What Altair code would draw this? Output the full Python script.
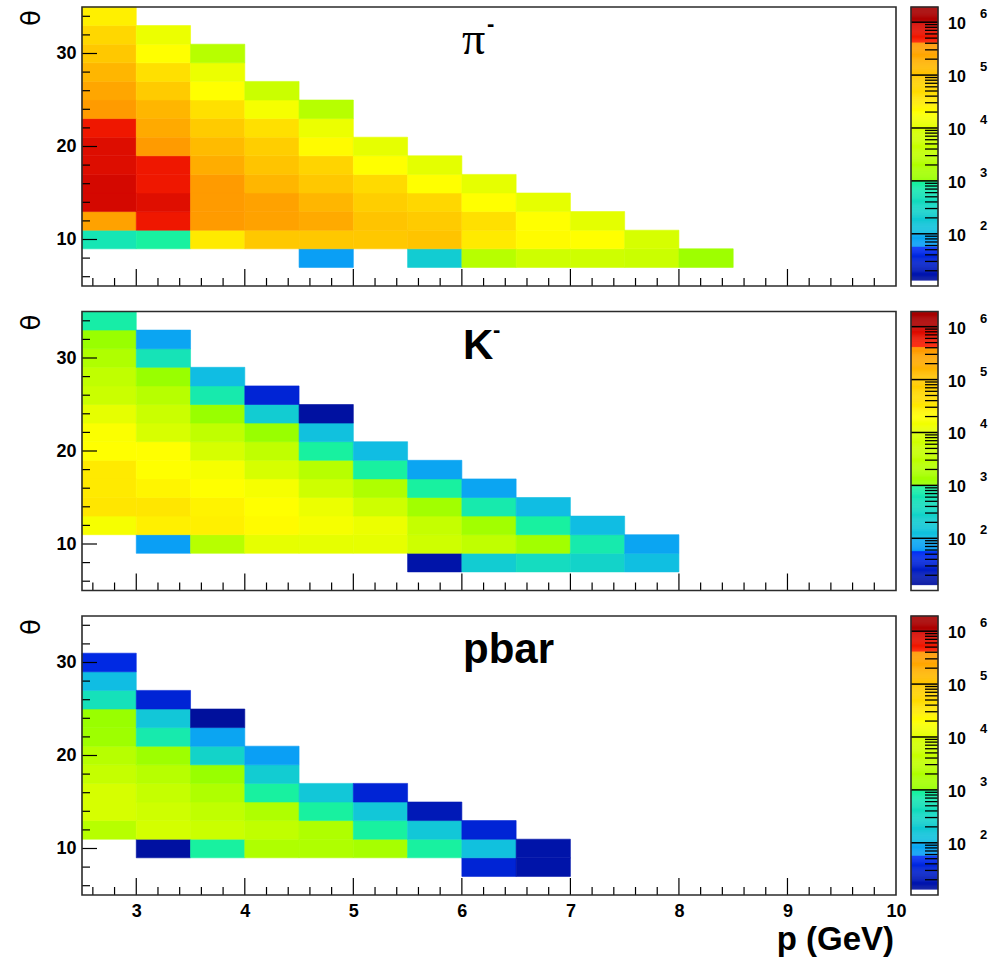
import altair as alt
import pandas as pd
import numpy as np

# ---------------- data (counts per bin) ----------------
P_BIN = 0.5          # GeV
T_BIN = 2.0          # degrees

# pi-   : left p edge of each column, lower theta edge of first filled bin, counts bottom->top
PIM_P = [2.5, 3.0, 3.5, 4.0, 4.5, 5.0, 5.5, 6.0, 6.5, 7.0, 7.5, 8.0]
PIM_T0 = [9, 9, 9, 9, 7, 9, 7, 7, 7, 7, 7, 7]
PIM_N = [
    [630, 2.8e5, 9.3e5, 9.3e5, 7.9e5, 7.9e5, 5.6e5, 3.5e5, 2.5e5, 1.6e5, 1.0e5, 5.6e4, 2.8e4],
    [890, 5.6e5, 7.6e5, 5.6e5, 5.6e5, 3.5e5, 2.2e5, 1.6e5, 8.9e4, 4.0e4, 2.0e4, 1.26e4],
    [3.2e4, 3.5e5, 3.5e5, 3.5e5, 2.0e5, 1.4e5, 8.9e4, 4.0e4, 2.0e4, 1.26e4, 2.5e3],
    [1.0e5, 2.8e5, 2.8e5, 1.6e5, 1.1e5, 7.9e4, 4.0e4, 1.6e4, 5.0e3],
    [63, 1.0e5, 2.2e5, 1.6e5, 1.0e5, 6.3e4, 2.2e4, 1.26e4, 2.5e3],
    [1.0e5, 1.1e5, 7.9e4, 5.0e4, 2.0e4, 1.1e4],
    [200, 1.1e5, 8.9e4, 5.6e4, 2.0e4, 1.05e4],
    [2.5e3, 3.2e4, 4.0e4, 2.0e4, 1.1e4],
    [6.3e3, 2.2e4, 2.0e4, 1.1e4],
    [6.3e3, 2.0e4, 1.05e4],
    [5.0e3, 8.9e3],
    [1.26e3],
]

# K-
KM_P = [2.5, 3.0, 3.5, 4.0, 4.5, 5.0, 5.5, 6.0, 6.5, 7.0, 7.5]
KM_T0 = [11, 9, 9, 9, 9, 9, 7, 7, 7, 7, 7]
KM_N = [
    [1.6e4, 3.5e4, 3.2e4, 3.2e4, 2.0e4, 1.8e4, 1.1e4, 5.0e3, 3.2e3, 2.0e3, 1.1e3, 790],
    [63, 2.8e4, 3.5e4, 2.5e4, 2.0e4, 2.0e4, 9.5e3, 5.0e3, 2.5e3, 1.1e3, 560, 79],
    [2.5e3, 2.8e4, 2.6e4, 2.0e4, 1.6e4, 8.9e3, 3.2e3, 1.1e3, 710, 105],
    [1.1e4, 2.2e4, 2.0e4, 1.6e4, 8.9e3, 3.2e3, 1.1e3, 200, 32],
    [1.1e4, 1.6e4, 1.26e4, 6.3e3, 2.5e3, 890, 126, 14],
    [1.1e4, 1.26e4, 6.3e3, 2.0e3, 890, 105],
    [16, 6.3e3, 4.0e3, 1.4e3, 890, 79],
    [200, 3.2e3, 1.4e3, 710, 79],
    [400, 1.4e3, 890, 105],
    [280, 710, 105],
    [112, 79],
]

# pbar
PB_P = [2.5, 3.0, 3.5, 4.0, 4.5, 5.0, 5.5, 6.0, 6.5]
PB_T0 = [11, 9, 9, 9, 9, 9, 9, 7, 7]
PB_N = [
    [2.5e3, 8.9e3, 8.9e3, 4.0e3, 2.5e3, 1.26e3, 1.1e3, 500, 105, 40],
    [14, 7.9e3, 6.3e3, 4.0e3, 2.5e3, 1.26e3, 710, 160, 32],
    [890, 5.0e3, 3.2e3, 2.0e3, 1.1e3, 280, 79, 13],
    [2.0e3, 3.2e3, 2.0e3, 890, 200, 63],
    [2.0e3, 2.0e3, 890, 160],
    [1.6e3, 890, 160, 32],
    [890, 160, 20],
    [32, 126, 32],
    [16, 16],
]

TITLES = ["\u03c0", "K", "pbar"]
TITLE_SUP = ["-", "-", ""]

X_LABELS = [3, 4, 5, 6, 7, 8, 9, 10]
X_MAJOR = [3, 4, 5, 6, 7, 8, 9]
X_MINOR = [round(2.6 + 0.2 * i, 1) for i in range(37) if abs((2.6 + 0.2 * i) - round(2.6 + 0.2 * i)) > 1e-6]
Y_MAJOR = [10, 20, 30]
Y_MINOR = [6, 8, 12, 14, 16, 18, 22, 24, 26, 28, 32, 34]

CB_DECADES = [2, 3, 4, 5, 6]
CB_MINOR = [d + np.log10(k) for d in range(1, 7) for k in range(2, 10)]

# ---------------- style ----------------
FONT = "Liberation Sans"
W, H = 814, 279
CBW = 27
FRAME = "#2b2b2b"

STOP_LV = [1.0, 1.75, 1.751, 2.0, 2.001, 2.8, 2.999, 3.0, 3.5, 3.999, 4.0, 4.3, 4.6, 5.0, 5.3, 5.619, 5.62, 5.999, 6.0, 6.4]
STOP_COL = ["#000a8c", "#0030f8", "#0a9cf6", "#0cacf0", "#10bce4", "#16e6b4", "#18f49a", "#96ff00", "#c0ff00",
            "#d8ff00", "#e2ff00", "#ffff00", "#ffe000", "#ffc800", "#ffad00", "#ff9600", "#ff2000", "#d00600",
            "#b00000", "#a00000"]
cscale = alt.Scale(domain=STOP_LV, range=STOP_COL, interpolate="rgb", clamp=True)

CB_LO, CB_HI = 1.013, 6.287
bar_lo = np.arange(1.12, 6.287, 0.02)
bar_df = pd.DataFrame({"lo": bar_lo, "hi": np.minimum(bar_lo + 0.02, CB_HI), "mid": bar_lo + 0.01})


def build_df(ps, t0s, ns):
    rows = []
    for p, t0, counts in zip(ps, t0s, ns):
        for k, n in enumerate(counts):
            rows.append({"p0": p, "p1": p + P_BIN, "t0": t0 + T_BIN * k, "t1": t0 + T_BIN * (k + 1), "n": n})
    return pd.DataFrame(rows)


one = pd.DataFrame({"a": [0]})


def text_layer(txt, x, y, size, weight="bold", font=FONT, align="left", baseline="alphabetic", angle=0):
    return alt.Chart(pd.DataFrame({"t": [txt]})).mark_text(
        font=font, fontSize=size, fontWeight=weight, align=align, baseline=baseline, angle=angle, color="black"
    ).encode(text="t:N", x=alt.value(x), y=alt.value(y))


def panel(i, df, bottom):
    xs = alt.Scale(domain=[2.5, 10], nice=False, zero=False)
    ys = alt.Scale(domain=[5, 35], nice=False, zero=False)
    if bottom:
        xax = alt.Axis(values=X_LABELS, ticks=False, domain=False, grid=False, labelFont=FONT, labelFontSize=18,
                       labelFontWeight="bold", labelColor="black", labelPadding=7, title=None, labelFlush=False)
    else:
        xax = None
    yax = alt.Axis(values=Y_MAJOR, ticks=False, domain=False, grid=False, labelFont=FONT, labelFontSize=18,
                   labelFontWeight="bold", labelColor="black", labelPadding=6, title=None)

    cells = alt.Chart(df).transform_calculate(lv="log(datum.n)/LN10").mark_rect(strokeWidth=0.6).encode(
        x=alt.X("p0:Q", scale=xs, axis=xax), x2="p1:Q",
        y=alt.Y("t0:Q", scale=ys, axis=yax), y2="t1:Q",
        color=alt.Color("lv:Q", scale=cscale, legend=None),
        stroke=alt.Stroke("lv:Q", scale=cscale, legend=None),
    )
    xmaj = alt.Chart(pd.DataFrame({"v": X_MAJOR})).mark_rule(color="black", strokeWidth=1.2).encode(
        x=alt.X("v:Q", scale=xs, axis=xax), y=alt.value(H), y2=alt.value(H - 17))
    xmin = alt.Chart(pd.DataFrame({"v": X_MINOR})).mark_rule(color="black", strokeWidth=1.2).encode(
        x=alt.X("v:Q", scale=xs, axis=xax), y=alt.value(H), y2=alt.value(H - 8))
    ymaj = alt.Chart(pd.DataFrame({"v": Y_MAJOR})).mark_rule(color="black", strokeWidth=1.2).encode(
        y=alt.Y("v:Q", scale=ys, axis=yax), x=alt.value(0), x2=alt.value(15))
    ymin = alt.Chart(pd.DataFrame({"v": Y_MINOR})).mark_rule(color="black", strokeWidth=1.2).encode(
        y=alt.Y("v:Q", scale=ys, axis=yax), x=alt.value(0), x2=alt.value(8))
    frame = alt.Chart(one).mark_rect(fillOpacity=0, stroke=FRAME, strokeWidth=1.6).encode(
        x=alt.value(0), x2=alt.value(W), y=alt.value(0), y2=alt.value(H))
    anchor = alt.Chart(one).mark_rule(color="white", strokeWidth=1).encode(
        x=alt.value(-76), y=alt.value(120), y2=alt.value(130))

    layers = [cells, xmaj, xmin, ymaj, ymin, frame, anchor,
              text_layer("\u03b8", -50, 11, 26, weight="normal", font="DejaVu Sans", align="center",
                         baseline="middle", angle=270)]
    if i == 0:
        layers.append(text_layer(TITLES[i], 380, 47, 46, weight="normal", font="Liberation Serif"))
        layers.append(text_layer(TITLE_SUP[i], 405, 24, 22))
    else:
        layers.append(text_layer(TITLES[i], 381, 47, 42))
        if TITLE_SUP[i]:
            layers.append(text_layer(TITLE_SUP[i], 411, 25, 22))
    if bottom:
        layers.append(text_layer("p (GeV)", W - 2, 334, 33, align="right"))
    return alt.layer(*layers).properties(width=W, height=H)


def colorbar():
    cby = alt.Scale(domain=[CB_LO, CB_HI], nice=False, zero=False)
    rects = alt.Chart(bar_df).mark_rect(strokeWidth=0.4).encode(
        y=alt.Y("lo:Q", scale=cby, axis=None), y2="hi:Q",
        x=alt.value(0), x2=alt.value(CBW),
        color=alt.Color("mid:Q", scale=cscale, legend=None),
        stroke=alt.Stroke("mid:Q", scale=cscale, legend=None),
    )
    dec = pd.DataFrame({"d": CB_DECADES, "s": [str(d) for d in CB_DECADES]})
    mn = pd.DataFrame({"v": [v for v in CB_MINOR if 1.12 < v < CB_HI]})
    maj = alt.Chart(dec).mark_rule(color="black", strokeWidth=1.5).encode(
        y=alt.Y("d:Q", scale=cby, axis=None), x=alt.value(0), x2=alt.value(CBW))
    minr = alt.Chart(mn).mark_rule(color="black", strokeWidth=1.3).encode(
        y=alt.Y("v:Q", scale=cby, axis=None), x=alt.value(CBW - 13), x2=alt.value(CBW))
    lab = alt.Chart(dec).transform_calculate(t="'10'").mark_text(
        font=FONT, fontSize=16, fontWeight="bold", align="left", baseline="middle", dy=2, color="black"
    ).encode(y=alt.Y("d:Q", scale=cby, axis=None), x=alt.value(37), text="t:N")
    sup = alt.Chart(dec).mark_text(
        font=FONT, fontSize=13, fontWeight="bold", align="left", baseline="middle", dy=-8, color="black"
    ).encode(y=alt.Y("d:Q", scale=cby, axis=None), x=alt.value(69), text="s:N")
    frame = alt.Chart(one).mark_rect(fillOpacity=0, stroke=FRAME, strokeWidth=1.6).encode(
        x=alt.value(0), x2=alt.value(CBW), y=alt.value(0), y2=alt.value(H))
    return alt.layer(rects, maj, minr, lab, sup, frame).properties(width=CBW, height=H)


dfs = [build_df(PIM_P, PIM_T0, PIM_N), build_df(KM_P, KM_T0, KM_N), build_df(PB_P, PB_T0, PB_N)]
rows = [alt.hconcat(panel(i, dfs[i], i == 2), colorbar(), spacing=15, bounds="flush") for i in range(3)]

chart = alt.vconcat(*rows, spacing=21.5).configure_view(stroke="transparent").properties(
    padding={"left": 5, "top": 5, "right": 0, "bottom": 0}, background="white")

chart.save("out.html", embed_options={"renderer": "svg", "actions": False})
